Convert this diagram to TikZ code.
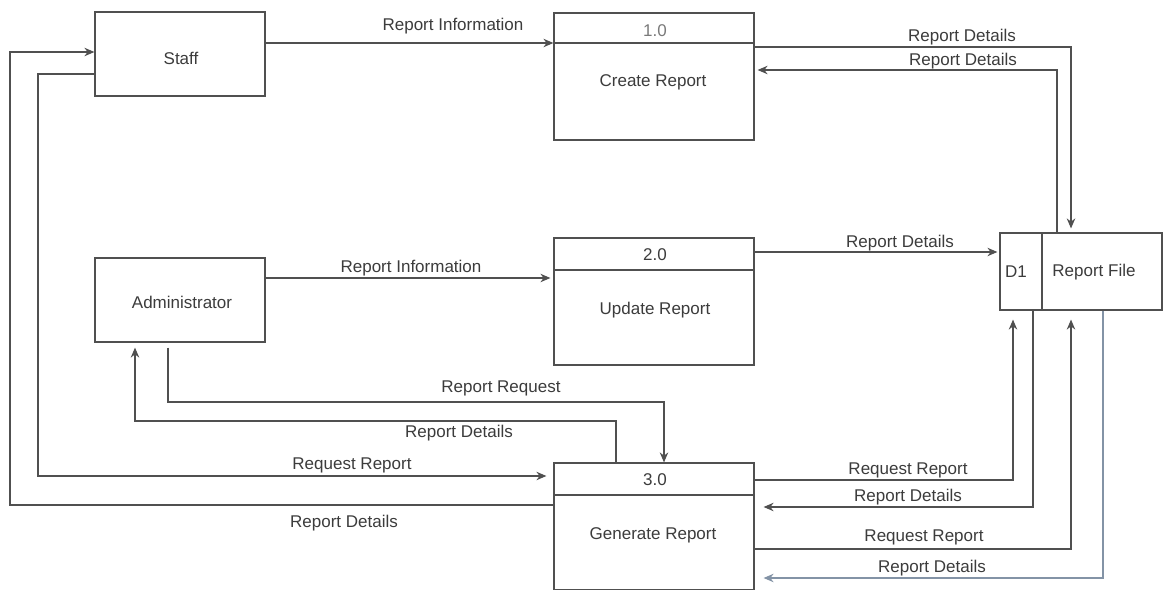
\documentclass[tikz,border=0pt]{standalone}
\usepackage{fontspec}
\setmainfont{Liberation Sans}
\usetikzlibrary{arrows.meta}
\definecolor{ink}{HTML}{505050}
\definecolor{txt}{HTML}{3C3C3C}
\definecolor{pale}{HTML}{7A7A7A}
\definecolor{bluish}{HTML}{8393A6}

\begin{document}
\begin{tikzpicture}[x=1pt,y=-1pt,
  line width=1.2pt,
  every node/.style={font=\fontsize{17}{19}\selectfont, text=txt},
  entity/.style={draw=ink, minimum width=170pt, minimum height=84pt, inner sep=0pt},
  proc/.style={draw=ink, minimum width=200pt, minimum height=127pt, inner sep=0pt},
  datastore/.style={draw=ink, minimum width=162pt, minimum height=77pt, inner sep=0pt},
  lbl/.style={inner sep=0pt},
  flow/.style={draw=ink, -{Stealth[length=10pt,width=8.5pt]}}
]
\useasboundingbox[fill=white] (0,0) rectangle (1164,589);

% external entities
\node[entity] (staff) at (180,54) {};
\node[lbl] (staffname) at (181,58) {Staff};
\node[entity] (admin) at (180,300) {};
\node[lbl] (adminname) at (182,302) {Administrator};

% processes
\node[proc] (create) at (654,76.5) {};
\draw[ink] (create.west |- 0,43) -- (create.east |- 0,43);
\node[lbl, text=pale] (createid) at (655,31) {1.0};
\node[lbl] (createname) at (653,82) {Create Report};

\node[proc] (update) at (654,301.5) {};
\draw[ink] (update.west |- 0,270) -- (update.east |- 0,270);
\node[lbl] (updateid) at (655,255) {2.0};
\node[lbl] (updatename) at (655,310) {Update Report};

\node[proc] (gen) at (654,526.5) {};
\draw[ink] (gen.west |- 0,495) -- (gen.east |- 0,495);
\node[lbl] (genid) at (655,480) {3.0};
\node[lbl] (genname) at (653,535) {Generate Report};

% data store
\node[datastore] (store) at (1081,271.5) {};
\draw[ink] (store.north -| 1042,0) -- (store.south -| 1042,0);
\node[lbl] (storeid) at (1016,272) {D1};
\node[lbl] (storename) at (1094,272) {Report File};

% Staff <-> Create Report
\draw[flow] (staff.east |- 0,43) -- (create.west |- 0,43);
\node[lbl] (l1) at (453,26) {Report Information};

% Create Report <-> Report File
\draw[flow, shorten >=4pt] (create.east |- 0,47) -| (store.north -| 1071,0);
\node[lbl] (l2) at (962,37) {Report Details};
\draw[flow, shorten >=3pt] (store.north -| 1057,0) |- (create.east |- 0,70);
\node[lbl] (l3) at (963,61) {Report Details};

% Administrator -> Update Report -> Report File
\draw[flow, shorten >=3pt] (admin.east |- 0,278) -- (update.west |- 0,278);
\node[lbl] (l4) at (411,268) {Report Information};
\draw[flow, shorten >=2pt] (update.east |- 0,252) -- (store.west |- 0,252);
\node[lbl] (l5) at (900,243) {Report Details};

% Administrator <-> Generate Report
\draw[flow, shorten <=5pt] (admin.south -| 168,0) -- (168,402) -| (gen.north -| 664,0);
\node[lbl] (l6) at (501,388) {Report Request};
\draw[flow, shorten >=5pt] (gen.north -| 616,0) -- (616,421) -| (admin.south -| 135,0);
\node[lbl] (l7) at (459,433) {Report Details};

% Staff <-> Generate Report
\draw[flow, shorten >=7pt] (staff.west |- 0,74) -| (38,476) -- (gen.west |- 0,476);
\node[lbl] (l8) at (352,465) {Request Report};
\draw[flow] (gen.west |- 0,505) -| (10,52) -- (staff.west |- 0,52);
\node[lbl] (l9) at (344,523) {Report Details};

% Generate Report <-> Report File
\draw[flow, shorten >=9pt] (gen.east |- 0,480) -| (store.south -| 1013,0);
\node[lbl] (l10) at (908,470) {Request Report};
\draw[flow, shorten >=9pt] (store.south -| 1033,0) |- (gen.east |- 0,507);
\node[lbl] (l11) at (908,497) {Report Details};
\draw[flow, shorten >=9pt] (gen.east |- 0,549) -| (store.south -| 1071,0);
\node[lbl] (l12) at (924,537) {Request Report};
\draw[flow, draw=bluish, shorten >=9pt] (store.south -| 1103,0) |- (gen.east |- 0,578);
\node[lbl] (l13) at (932,568) {Report Details};
\end{tikzpicture}
\end{document}
